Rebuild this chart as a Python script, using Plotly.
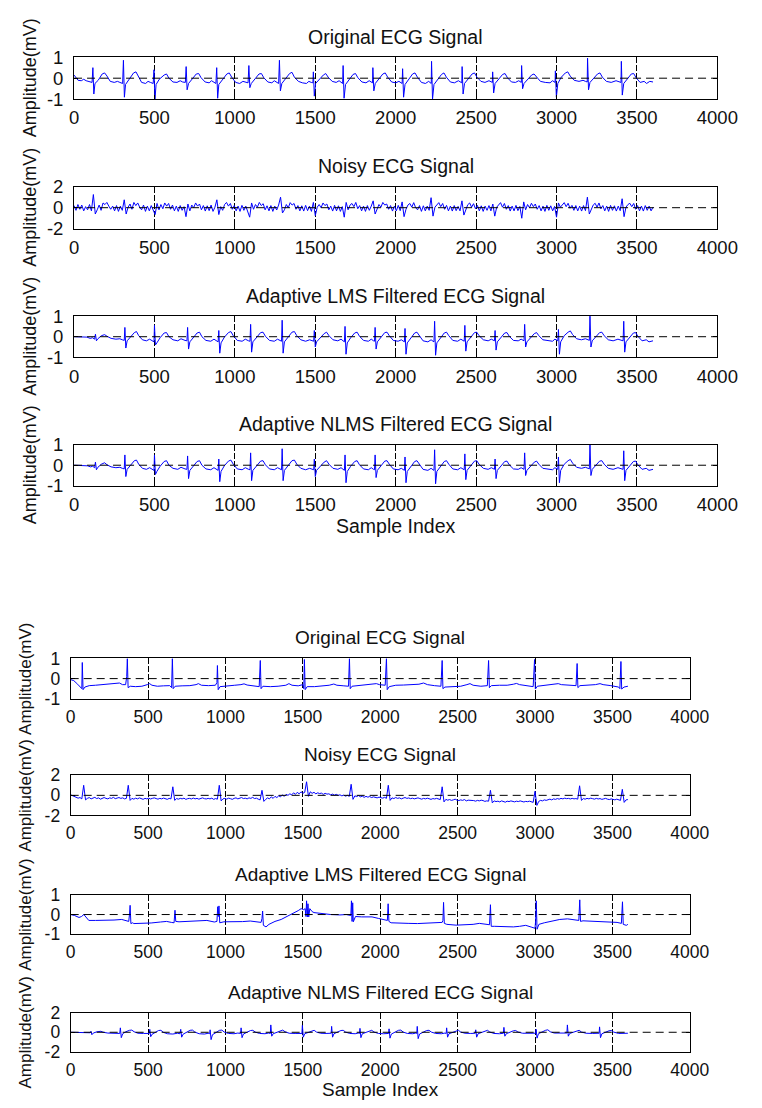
import plotly.graph_objects as go

FIG_W, FIG_H = 762, 1108
FONT = "Liberation Sans, Arial, Helvetica, sans-serif"

# ---------------------------------------------------------------- data
X_TICKS = [0, 500, 1000, 1500, 2000, 2500, 3000, 3500, 4000]
X_TICK_TEXT = [str(v) for v in X_TICKS]
X_LIMITS = [0, 4000]

TITLES = ["Original ECG Signal", "Noisy ECG Signal",
          "Adaptive LMS Filtered ECG Signal", "Adaptive NLMS Filtered ECG Signal"]
Y_LABEL = "Amplitude(mV)"
X_LABEL = "Sample Index"

# symmetric amplitude limit of each panel (mV)
Y_LIMITS = [1, 2, 1, 1, 1, 2, 1, 2]

# sample spacing of the stored noisy recordings
NOISY_STEP = 12

# record A : (sample index, amplitude) vertices
ORIG_A = [
    (0, 0.15), (12, 0.05), (25, -0.1), (45, -0.12), (60, -0.05), (75, -0.12), (95, -0.15), (112, -0.2),
    (117, 0.5), (123, -0.75), (130, -0.25), (150, -0.1), (175, 0.2), (190, 0.25), (205, 0.1), (225, -0.15),
    (250, -0.2), (270, -0.15), (285, -0.2), (302, -0.25), (307, 0.85), (313, -0.9), (320, -0.3), (345, -0.05),
    (370, 0.25), (385, 0.3), (400, 0.05), (420, -0.2), (445, -0.25), (460, -0.15), (475, -0.2), (492, -0.25),
    (497, 0.4), (503, -1.0), (510, -0.3), (530, -0.05), (560, 0.15), (575, 0.2), (590, 0.0), (615, -0.18),
    (640, -0.2), (660, -0.12), (675, -0.18), (692, -0.2), (697, 0.55), (703, -0.55), (712, -0.25), (735, -0.05),
    (760, 0.2), (775, 0.22), (790, 0.02), (815, -0.18), (840, -0.22), (855, -0.12), (870, -0.2), (882, -0.25),
    (887, 0.5), (893, -0.95), (900, -0.3), (925, -0.05), (950, 0.2), (965, 0.25), (980, 0.05), (1005, -0.2),
    (1030, -0.25), (1050, -0.15), (1065, -0.2), (1082, -0.22), (1087, 0.6), (1093, -0.45), (1102, -0.25),
    (1125, -0.05), (1150, 0.2), (1165, 0.22), (1180, 0.02), (1205, -0.18), (1230, -0.22), (1245, -0.12),
    (1260, -0.2), (1272, -0.25), (1277, 0.85), (1283, -0.6), (1292, -0.25), (1315, 0.0), (1340, 0.22),
    (1355, 0.28), (1370, 0.05), (1395, -0.15), (1420, -0.22), (1445, -0.25), (1460, -0.15), (1475, -0.2),
    (1485, -0.22), (1488, 0.3), (1494, -0.85), (1502, -0.25), (1525, -0.05), (1550, 0.15), (1565, 0.22),
    (1580, 0.05), (1605, -0.15), (1630, -0.2), (1648, -0.12), (1660, -0.2), (1670, -0.25), (1673, 0.6),
    (1679, -0.95), (1688, -0.3), (1710, -0.05), (1735, 0.18), (1750, 0.22), (1765, 0.02), (1790, -0.18),
    (1815, -0.22), (1835, -0.12), (1848, -0.2), (1856, -0.22), (1858, 0.5), (1864, -0.6), (1873, -0.25),
    (1895, -0.05), (1920, 0.2), (1935, 0.25), (1950, 0.05), (1975, -0.18), (2000, -0.22), (2020, -0.15),
    (2033, -0.2), (2040, -0.25), (2043, 0.45), (2049, -0.9), (2058, -0.3), (2080, -0.05), (2105, 0.2),
    (2120, 0.25), (2135, 0.05), (2160, -0.2), (2185, -0.25), (2205, -0.15), (2215, -0.22), (2221, -0.25),
    (2223, 0.8), (2229, -1.0), (2238, -0.3), (2260, -0.05), (2285, 0.18), (2300, 0.25), (2315, 0.05),
    (2340, -0.18), (2365, -0.22), (2390, -0.12), (2403, -0.2), (2411, -0.22), (2413, 0.55), (2419, -0.75),
    (2428, -0.25), (2450, -0.05), (2475, 0.2), (2490, 0.25), (2505, 0.05), (2530, -0.15), (2555, -0.2),
    (2580, -0.12), (2593, -0.18), (2601, -0.2), (2603, 0.3), (2609, -0.7), (2618, -0.25), (2640, -0.05),
    (2665, 0.18), (2680, 0.22), (2695, 0.02), (2720, -0.18), (2745, -0.2), (2765, -0.12), (2777, -0.18),
    (2781, -0.2), (2783, 0.6), (2789, -0.5), (2798, -0.25), (2820, -0.05), (2845, 0.15), (2860, 0.2),
    (2875, 0.05), (2900, -0.15), (2930, -0.2), (2960, -0.22), (2975, -0.12), (2987, -0.18), (2991, -0.2),
    (2993, 0.35), (2999, -0.9), (3008, -0.25), (3030, 0.05), (3055, 0.25), (3070, 0.3), (3085, 0.1),
    (3110, -0.1), (3140, -0.15), (3165, -0.1), (3180, -0.15), (3191, -0.18), (3193, 0.95), (3199, -0.55),
    (3208, -0.2), (3230, 0.0), (3255, 0.2), (3270, 0.25), (3285, 0.05), (3310, -0.15), (3340, -0.2),
    (3370, -0.12), (3390, -0.18), (3401, -0.2), (3403, 0.8), (3409, -0.8), (3418, -0.25), (3440, -0.05),
    (3465, 0.2), (3480, 0.22), (3495, 0.02), (3520, -0.2), (3545, -0.15), (3560, -0.25), (3580, -0.15),
    (3600, -0.18),
]

# record A with added noise, one value every NOISY_STEP samples
NOISY_A = [
    0.2, -0.25, 0.3, -0.15, 0.25, -0.3, 0.1, -0.2, 0.3, -0.3,
    1.25, -0.6,
    -0.2, 0.25, -0.25, 0.45, 0.3, 0.5, 0.15, -0.15, 0.15, -0.3, 0.2, -0.35, 0.15, -0.25,
    0.75, -0.6,
    0.05, 0.35, -0.15, 0.5, 0.2, 0.45, 0.05, -0.2, 0.25, -0.35, 0.15, -0.3, 0.2, -0.28,
    -0.65, 0.4,
    -0.2, 0.3, -0.1, 0.45, 0.15, 0.4, -0.15, 0.25, -0.3, 0.15, -0.35, 0.2, -0.25, 0.1,
    -0.85, 0.35,
    -0.3, 0.25, 0.0, 0.45, 0.15, 0.35, -0.2, 0.2, -0.32, 0.18, -0.28, 0.25, -0.35, 0.05,
    0.75, -0.65,
    0.1, -0.25, 0.3, 0.5, 0.15, 0.4, -0.15, 0.2, -0.3, 0.15, -0.35, 0.22, -0.25, 0.15, -0.3,
    -0.9, 0.45,
    -0.15, 0.3, 0.05, 0.5, 0.2, 0.38, -0.2, 0.18, -0.3, 0.2, -0.35, 0.15, -0.22, 0.25,
    1.0, -0.5,
    -0.2, 0.3, 0.0, 0.48, 0.25, 0.4, -0.15, 0.2, -0.3, 0.18, -0.32, 0.22, -0.28, 0.15, -0.35,
    0.5, -0.75,
    0.05, 0.3, 0.0, 0.45, 0.2, 0.35, -0.2, 0.15, -0.32, 0.22, -0.3, 0.18, -0.35, 0.1,
    -0.9, 0.5,
    -0.2, 0.25, 0.4, 0.1, 0.5, -0.1, 0.2, -0.3, 0.15, -0.35, 0.2, -0.25, 0.15,
    0.65, -0.6,
    -0.05, 0.3, 0.05, 0.5, 0.25, 0.35, -0.15, 0.2, -0.32, 0.15, -0.3, 0.22, -0.28,
    0.55, -0.85,
    -0.15, 0.25, 0.4, 0.05, 0.48, 0.0, -0.2, 0.2, -0.35, 0.18, -0.3, 0.15, -0.25,
    0.95, -0.8,
    0.05, 0.3, 0.48, 0.1, 0.4, -0.15, 0.22, -0.3, 0.15, -0.32, 0.2, -0.28, 0.12, -0.3,
    0.65, -0.7,
    -0.15, 0.28, 0.45, 0.05, 0.38, -0.1, 0.22, -0.3, 0.18, -0.35, 0.15, -0.25, 0.2, -0.3,
    0.35, -0.8,
    0.05, 0.25, 0.48, 0.05, 0.4, -0.15, 0.2, -0.32, 0.15, -0.3, 0.22, -0.28, 0.12,
    -1.0, 0.55,
    -0.2, 0.3, 0.0, 0.42, 0.1, 0.35, -0.15, 0.2, -0.3, 0.15, -0.35, 0.22, -0.25, 0.18, -0.3, 0.12,
    -0.9, 0.45,
    0.05, 0.3, 0.48, 0.1, 0.42, -0.05, 0.22, -0.25, 0.2, -0.3, 0.15, -0.32, 0.2, -0.28,
    1.0, -0.6,
    -0.15, 0.25, 0.42, 0.05, 0.45, -0.1, 0.2, -0.3, 0.15, -0.35, 0.22, -0.25, 0.18, -0.32, 0.15, -0.28,
    0.85, -0.85,
    0.05, 0.3, 0.42, 0.1, 0.4, -0.15, 0.2, -0.3, 0.15, -0.32, 0.2, -0.25, 0.15, -0.3, 0.05,
]

LMS_A = [
    (0, 0.0), (60, 0.0), (80, -0.02), (100, -0.08), (115, -0.05), (128, -0.12), (133, 0.12), (139, -0.2),
    (148, -0.1), (170, 0.05), (190, 0.1), (205, 0.02), (230, -0.08), (260, -0.12), (285, -0.1), (300, -0.15),
    (312, -0.18), (316, 0.45), (322, -0.55), (330, -0.2), (350, 0.0), (375, 0.2), (388, 0.25), (402, 0.05),
    (425, -0.15), (450, -0.2), (470, -0.12), (488, -0.2), (497, -0.25), (500, 0.55), (506, -0.4), (515, -0.3),
    (535, -0.05), (560, 0.18), (575, 0.2), (590, 0.0), (615, -0.15), (645, -0.2), (665, -0.1), (690, -0.18),
    (702, -0.2), (706, 0.45), (712, -0.6), (720, -0.25), (742, -0.05), (765, 0.18), (780, 0.22), (795, 0.0),
    (820, -0.18), (850, -0.22), (870, -0.12), (888, -0.2), (896, -0.25), (900, 0.3), (906, -0.8), (914, -0.3),
    (935, -0.02), (960, 0.2), (975, 0.25), (990, 0.05), (1015, -0.18), (1045, -0.22), (1065, -0.12),
    (1085, -0.2), (1094, -0.22), (1098, 0.6), (1104, -0.75), (1112, -0.25), (1135, -0.05), (1160, 0.2),
    (1175, 0.22), (1190, 0.02), (1215, -0.18), (1245, -0.22), (1265, -0.12), (1282, -0.2), (1290, -0.22),
    (1294, 0.8), (1300, -0.8), (1308, -0.25), (1330, 0.0), (1355, 0.22), (1370, 0.25), (1385, 0.05),
    (1410, -0.15), (1440, -0.22), (1465, -0.15), (1482, -0.2), (1490, -0.22), (1494, 0.3), (1500, -0.5),
    (1508, -0.25), (1530, -0.05), (1555, 0.15), (1570, 0.22), (1585, 0.05), (1610, -0.15), (1640, -0.2),
    (1660, -0.12), (1674, -0.2), (1681, -0.25), (1685, 0.5), (1691, -0.85), (1699, -0.3), (1720, -0.05),
    (1745, 0.18), (1760, 0.22), (1775, 0.02), (1800, -0.18), (1830, -0.22), (1848, -0.12), (1862, -0.2),
    (1868, -0.22), (1872, 0.45), (1878, -0.6), (1886, -0.25), (1908, -0.05), (1932, 0.2), (1946, 0.22),
    (1960, 0.05), (1985, -0.18), (2015, -0.22), (2035, -0.15), (2048, -0.2), (2054, -0.25), (2058, 0.4),
    (2064, -0.85), (2072, -0.3), (2094, -0.05), (2118, 0.18), (2132, 0.22), (2146, 0.05), (2170, -0.2),
    (2200, -0.25), (2220, -0.15), (2232, -0.22), (2238, -0.25), (2242, 0.75), (2248, -0.9), (2256, -0.3),
    (2278, -0.05), (2302, 0.18), (2316, 0.22), (2330, 0.05), (2355, -0.18), (2385, -0.22), (2405, -0.12),
    (2420, -0.2), (2426, -0.22), (2430, 0.55), (2436, -0.7), (2444, -0.25), (2466, -0.05), (2490, 0.2),
    (2504, 0.22), (2518, 0.05), (2545, -0.15), (2575, -0.2), (2595, -0.12), (2608, -0.18), (2614, -0.2),
    (2618, 0.3), (2624, -0.65), (2632, -0.25), (2654, -0.05), (2678, 0.18), (2692, 0.2), (2706, 0.02),
    (2732, -0.18), (2762, -0.2), (2780, -0.12), (2792, -0.18), (2798, -0.2), (2802, 0.6), (2808, -0.5),
    (2816, -0.25), (2838, -0.05), (2862, 0.15), (2876, 0.2), (2890, 0.05), (2915, -0.15), (2945, -0.2),
    (2975, -0.22), (2990, -0.12), (3002, -0.18), (3008, -0.2), (3012, 0.35), (3018, -0.85), (3026, -0.25),
    (3048, 0.05), (3072, 0.22), (3086, 0.28), (3100, 0.1), (3125, -0.1), (3155, -0.15), (3180, -0.1),
    (3196, -0.15), (3204, -0.18), (3208, 1.0), (3214, -0.5), (3222, -0.2), (3244, 0.0), (3268, 0.2),
    (3282, 0.22), (3296, 0.05), (3322, -0.15), (3352, -0.2), (3382, -0.12), (3404, -0.18), (3414, -0.2),
    (3418, 0.75), (3424, -0.75), (3432, -0.25), (3454, -0.05), (3478, 0.18), (3492, 0.2), (3506, 0.02),
    (3532, -0.2), (3558, -0.15), (3575, -0.25), (3600, -0.2),
]

NLMS_A = [
    (0, 0.0), (65, 0.0), (85, -0.03), (102, -0.08), (116, -0.05), (128, -0.12), (133, 0.15), (139, -0.22),
    (148, -0.1), (170, 0.05), (190, 0.12), (205, 0.02), (230, -0.08), (260, -0.12), (285, -0.1), (300, -0.15),
    (312, -0.18), (316, 0.5), (322, -0.55), (330, -0.2), (350, 0.0), (375, 0.22), (388, 0.25), (402, 0.05),
    (425, -0.15), (450, -0.2), (470, -0.12), (488, -0.2), (497, -0.25), (500, 0.5), (506, -0.45), (515, -0.3),
    (535, -0.05), (560, 0.18), (575, 0.22), (590, 0.0), (615, -0.15), (645, -0.2), (665, -0.1), (690, -0.18),
    (702, -0.2), (706, 0.45), (712, -0.65), (720, -0.25), (742, -0.05), (765, 0.18), (780, 0.22), (795, 0.0),
    (820, -0.18), (850, -0.22), (870, -0.12), (888, -0.2), (896, -0.25), (900, 0.3), (906, -0.8), (914, -0.3),
    (935, -0.02), (960, 0.2), (975, 0.25), (990, 0.05), (1015, -0.18), (1045, -0.22), (1065, -0.12),
    (1085, -0.2), (1094, -0.22), (1098, 0.6), (1104, -0.75), (1112, -0.25), (1135, -0.05), (1160, 0.2),
    (1175, 0.22), (1190, 0.02), (1215, -0.18), (1245, -0.22), (1265, -0.12), (1282, -0.2), (1290, -0.22),
    (1294, 0.8), (1300, -0.75), (1308, -0.25), (1330, 0.0), (1355, 0.22), (1370, 0.25), (1385, 0.05),
    (1410, -0.15), (1440, -0.22), (1465, -0.15), (1482, -0.2), (1490, -0.22), (1494, 0.3), (1500, -0.55),
    (1508, -0.25), (1530, -0.05), (1555, 0.15), (1570, 0.22), (1585, 0.05), (1610, -0.15), (1640, -0.2),
    (1660, -0.12), (1674, -0.2), (1681, -0.25), (1685, 0.5), (1691, -0.85), (1699, -0.3), (1720, -0.05),
    (1745, 0.18), (1760, 0.22), (1775, 0.02), (1800, -0.18), (1830, -0.22), (1848, -0.12), (1862, -0.2),
    (1868, -0.22), (1872, 0.5), (1878, -0.6), (1886, -0.25), (1908, -0.05), (1932, 0.2), (1946, 0.22),
    (1960, 0.05), (1985, -0.18), (2015, -0.22), (2035, -0.15), (2048, -0.2), (2054, -0.25), (2058, 0.4),
    (2064, -0.85), (2072, -0.3), (2094, -0.05), (2118, 0.18), (2132, 0.22), (2146, 0.05), (2170, -0.2),
    (2200, -0.25), (2220, -0.15), (2232, -0.22), (2238, -0.25), (2242, 0.75), (2248, -0.9), (2256, -0.3),
    (2278, -0.05), (2302, 0.18), (2316, 0.22), (2330, 0.05), (2355, -0.18), (2385, -0.22), (2405, -0.12),
    (2420, -0.2), (2426, -0.22), (2430, 0.55), (2436, -0.7), (2444, -0.25), (2466, -0.05), (2490, 0.2),
    (2504, 0.22), (2518, 0.05), (2545, -0.15), (2575, -0.2), (2595, -0.12), (2608, -0.18), (2614, -0.2),
    (2618, 0.3), (2624, -0.65), (2632, -0.25), (2654, -0.05), (2678, 0.18), (2692, 0.2), (2706, 0.02),
    (2732, -0.18), (2762, -0.2), (2780, -0.12), (2792, -0.18), (2798, -0.2), (2802, 0.6), (2808, -0.5),
    (2816, -0.25), (2838, -0.05), (2862, 0.15), (2876, 0.2), (2890, 0.05), (2915, -0.15), (2945, -0.2),
    (2975, -0.22), (2990, -0.12), (3002, -0.18), (3008, -0.2), (3012, 0.4), (3018, -0.85), (3026, -0.25),
    (3048, 0.05), (3072, 0.22), (3086, 0.28), (3100, 0.1), (3125, -0.1), (3155, -0.15), (3180, -0.1),
    (3196, -0.15), (3204, -0.18), (3208, 1.0), (3214, -0.5), (3222, -0.2), (3244, 0.0), (3268, 0.2),
    (3282, 0.22), (3296, 0.05), (3322, -0.15), (3352, -0.2), (3382, -0.12), (3404, -0.18), (3414, -0.2),
    (3418, 0.7), (3424, -0.75), (3432, -0.25), (3454, -0.05), (3478, 0.18), (3492, 0.2), (3506, 0.02),
    (3532, -0.2), (3558, -0.15), (3575, -0.25), (3600, -0.2),
]

# record B
ORIG_B = [
    (0, -0.05), (20, -0.1), (45, -0.28), (65, -0.42), (72, -0.5), (75, 0.8), (80, -0.55), (92, -0.42),
    (120, -0.35), (160, -0.33), (200, -0.3), (240, -0.3), (280, -0.26), (315, -0.22), (335, -0.3),
    (355, -0.3), (362, 0.1), (366, 1.0), (371, -0.45), (385, -0.38), (420, -0.4), (460, -0.38), (495, -0.3),
    (510, -0.25), (525, -0.33), (560, -0.38), (600, -0.36), (640, -0.35), (652, -0.45), (657, 1.0),
    (662, -0.5), (675, -0.38), (720, -0.36), (770, -0.35), (810, -0.3), (825, -0.25), (845, -0.33),
    (890, -0.35), (935, -0.33), (945, -0.2), (948, 0.65), (953, -0.55), (965, -0.4), (1010, -0.35),
    (1060, -0.33), (1100, -0.3), (1120, -0.26), (1140, -0.32), (1190, -0.35), (1218, -0.4), (1225, 0.9),
    (1230, -0.5), (1242, -0.38), (1290, -0.4), (1340, -0.38), (1390, -0.33), (1410, -0.25), (1430, -0.33),
    (1470, -0.36), (1500, -0.3), (1506, -0.5), (1510, 0.95), (1515, -0.55), (1528, -0.4), (1575, -0.4),
    (1620, -0.38), (1670, -0.33), (1700, -0.27), (1720, -0.33), (1765, -0.36), (1795, -0.38), (1801, 1.0),
    (1806, -0.5), (1818, -0.38), (1860, -0.35), (1900, -0.33), (1950, -0.3), (1975, -0.25), (1995, -0.3),
    (2032, -0.33), (2040, 1.0), (2045, -0.55), (2058, -0.4), (2100, -0.33), (2150, -0.32), (2200, -0.3),
    (2250, -0.28), (2280, -0.22), (2305, -0.3), (2350, -0.35), (2392, -0.38), (2400, 0.9), (2405, -0.5),
    (2418, -0.42), (2470, -0.4), (2520, -0.38), (2560, -0.3), (2580, -0.25), (2600, -0.33), (2650, -0.38),
    (2692, -0.35), (2700, 0.9), (2705, -0.45), (2718, -0.35), (2770, -0.33), (2820, -0.33), (2860, -0.28),
    (2880, -0.24), (2900, -0.3), (2950, -0.35), (2988, -0.4), (2997, 0.95), (3002, -0.52), (3015, -0.38),
    (3060, -0.33), (3110, -0.3), (3150, -0.25), (3170, -0.3), (3220, -0.33), (3265, -0.35), (3272, 0.75),
    (3277, -0.45), (3290, -0.35), (3340, -0.33), (3390, -0.3), (3420, -0.25), (3440, -0.3), (3490, -0.35),
    (3540, -0.42), (3548, -0.5), (3555, 0.85), (3560, -0.52), (3575, -0.42), (3600, -0.38),
]

NOISY_B = [
    0.05, -0.05, -0.12, -0.2, -0.28, -0.22, -0.35,
    1.0, -0.45,
    -0.3, -0.22, -0.35, -0.28, -0.2, -0.32, -0.25, -0.38, -0.28, -0.22, -0.3, -0.35, -0.25, -0.3, -0.2,
    -0.33, -0.27, -0.22, -0.3, -0.25, -0.35, -0.3,
    1.0, -0.5,
    -0.3, -0.38, -0.28, -0.35, -0.25, -0.33, -0.4, -0.3, -0.35, -0.28, -0.36, -0.3, -0.25, -0.32, -0.38,
    -0.3, -0.35, -0.27, -0.33, -0.4, -0.3, -0.35,
    0.85, -0.5,
    -0.32, -0.38, -0.3, -0.35, -0.28, -0.4, -0.33, -0.3, -0.36, -0.27, -0.35, -0.3, -0.38, -0.3, -0.25,
    -0.33, -0.36, -0.3, -0.35, -0.28, -0.4, -0.32, -0.38,
    1.0, -0.55,
    -0.35, -0.3, -0.38, -0.28, -0.33, -0.4, -0.3, -0.25, -0.35, -0.3, -0.22, -0.32, -0.28, -0.35, -0.25,
    -0.3, -0.2, -0.32, -0.28, -0.38, -0.45,
    0.5, -0.6,
    -0.4, -0.25, -0.35, -0.15, -0.3, -0.1, -0.22, -0.05, -0.15, 0.05, -0.1, 0.1, 0.0, 0.15, 0.05, 0.25,
    0.1, 0.3, 0.15, 0.35, 0.2, 0.3,
    1.35, -0.1,
    0.35, 0.2, 0.3, 0.15, 0.25, 0.18, 0.22, 0.1, 0.2, 0.12, 0.15, 0.05, 0.12, 0.02, 0.1, 0.0, 0.05,
    -0.05, 0.02, -0.08, 0.0, -0.1,
    1.1, -0.4,
    -0.05, -0.12, -0.02, -0.15, -0.08, -0.2, -0.1, -0.18, -0.12, -0.22, -0.15, -0.2, -0.25, -0.18, -0.22,
    -0.28, -0.2, -0.3,
    1.0, -0.5,
    -0.25, -0.32, -0.22, -0.3, -0.25, -0.35, -0.28, -0.22, -0.3, -0.26, -0.33, -0.28, -0.35, -0.3, -0.25,
    -0.32, -0.38, -0.3, -0.35, -0.28, -0.33, -0.4, -0.32, -0.36, -0.3, -0.38, -0.42,
    0.85, -0.65,
    -0.4, -0.48, -0.42, -0.5, -0.45, -0.38, -0.48, -0.52, -0.45, -0.5, -0.42, -0.55, -0.48, -0.5, -0.45,
    -0.52, -0.58, -0.5, -0.55, -0.48, -0.52, -0.6, -0.55, -0.58,
    0.5, -0.75,
    -0.55, -0.62, -0.58, -0.65, -0.55, -0.6, -0.68, -0.58, -0.62, -0.55, -0.6, -0.65, -0.58, -0.62, -0.55,
    -0.6, -0.66, -0.6, -0.63, -0.58, -0.65, -0.7,
    0.4, -1.0,
    -0.6, -0.5, -0.55, -0.45, -0.5, -0.42, -0.38, -0.45, -0.35, -0.4, -0.32, -0.38, -0.3, -0.35, -0.28,
    -0.33, -0.3, -0.36, -0.3, -0.35, -0.32, -0.38,
    0.95, -0.5,
    -0.32, -0.38, -0.3, -0.35, -0.28, -0.33, -0.38, -0.3, -0.36, -0.32, -0.4, -0.35, -0.3, -0.38, -0.42,
    -0.35, -0.4, -0.45, -0.38, -0.42, -0.5,
    0.6, -0.7,
    -0.45, -0.42,
]

LMS_B = [
    (0, 0.0), (25, -0.05), (54, -0.15), (70, -0.1), (85, 0.0), (100, -0.15), (117, -0.3), (160, -0.3),
    (220, -0.3), (280, -0.28), (330, -0.25), (360, -0.3), (375, -0.35), (380, 0.0), (384, 0.47),
    (389, -0.46), (400, -0.42), (408, -0.46), (460, -0.45), (520, -0.43), (580, -0.38), (620, -0.35),
    (650, -0.4), (668, -0.42), (674, 0.22), (679, -0.35), (700, -0.37), (760, -0.35), (820, -0.33),
    (880, -0.3), (928, -0.38), (945, -0.35), (950, 0.4), (954, -0.1), (958, 0.44), (963, -0.42),
    (990, -0.37), (1050, -0.37), (1110, -0.36), (1160, -0.33), (1198, -0.37), (1230, -0.4), (1236, -0.2),
    (1240, 0.18), (1245, -0.55), (1262, -0.63), (1281, -0.5), (1320, -0.35), (1360, -0.25), (1400, -0.1),
    (1440, 0.05), (1470, 0.2), (1489, 0.3), (1505, 0.25), (1515, 0.3), (1520, -0.1), (1524, 0.7),
    (1529, -0.12), (1533, 0.55), (1538, -0.12), (1545, 0.3), (1560, 0.15), (1572, 0.1), (1620, 0.05),
    (1680, 0.0), (1740, -0.02), (1780, 0.0), (1810, -0.05), (1814, 0.7), (1818, -0.35), (1822, 0.6),
    (1826, -0.37), (1840, -0.1), (1880, -0.12), (1947, -0.12), (1990, -0.2), (2030, -0.28), (2046, -0.3),
    (2051, 0.55), (2056, -0.35), (2070, -0.42), (2120, -0.45), (2180, -0.45), (2240, -0.46), (2300, -0.45),
    (2360, -0.42), (2400, -0.4), (2405, -0.3), (2409, 0.62), (2414, -0.45), (2430, -0.5), (2490, -0.54),
    (2550, -0.52), (2600, -0.5), (2640, -0.45), (2680, -0.5), (2706, -0.52), (2712, 0.5), (2717, -0.6),
    (2740, -0.6), (2800, -0.62), (2860, -0.63), (2900, -0.6), (2940, -0.55), (2980, -0.65), (3000, -0.7),
    (3004, -0.3), (3008, 0.7), (3013, -0.75), (3025, -0.5), (3060, -0.42), (3110, -0.35), (3160, -0.25),
    (3210, -0.22), (3260, -0.28), (3283, -0.3), (3289, 0.75), (3294, -0.35), (3310, -0.32), (3370, -0.34),
    (3430, -0.33), (3480, -0.35), (3530, -0.4), (3558, -0.45), (3565, 0.65), (3570, -0.5), (3580, -0.52),
    (3590, -0.55), (3600, -0.5),
]

NLMS_B = [
    (0, 0.0), (70, 0.0), (100, -0.05), (125, -0.05), (131, 0.1), (137, -0.25), (146, -0.08), (170, 0.05),
    (195, 0.1), (210, 0.0), (240, -0.08), (280, -0.1), (305, -0.08), (317, -0.12), (321, 0.45), (327, -0.55),
    (336, -0.15), (356, 0.05), (380, 0.2), (395, 0.22), (410, 0.05), (435, -0.1), (470, -0.12), (495, -0.08),
    (508, -0.12), (511, 0.3), (517, -0.45), (526, -0.2), (546, 0.0), (568, 0.18), (583, 0.2), (598, 0.0),
    (625, -0.15), (660, -0.18), (690, -0.1), (706, -0.15), (711, 0.3), (717, -0.5), (726, -0.2), (748, -0.02),
    (772, 0.2), (787, 0.22), (802, 0.02), (830, -0.15), (865, -0.18), (888, -0.1), (898, -0.15), (901, 0.25),
    (907, -0.75), (916, -0.25), (938, 0.0), (962, 0.2), (977, 0.22), (992, 0.02), (1020, -0.12),
    (1055, -0.15), (1080, -0.08), (1098, -0.12), (1101, 0.45), (1107, -0.55), (1116, -0.18), (1138, 0.0),
    (1162, 0.18), (1177, 0.2), (1192, 0.02), (1220, -0.12), (1255, -0.15), (1278, -0.08), (1290, -0.12),
    (1293, 0.75), (1299, -0.4), (1308, -0.15), (1330, 0.0), (1355, 0.2), (1370, 0.22), (1385, 0.05),
    (1412, -0.1), (1450, -0.12), (1480, -0.08), (1494, -0.12), (1497, 0.7), (1503, -0.5), (1512, -0.15),
    (1534, 0.0), (1558, 0.15), (1573, 0.2), (1588, 0.02), (1615, -0.1), (1650, -0.12), (1672, -0.08),
    (1683, -0.1), (1686, 0.6), (1692, -0.5), (1701, -0.15), (1722, 0.0), (1746, 0.18), (1761, 0.2),
    (1776, 0.02), (1803, -0.12), (1838, -0.15), (1858, -0.08), (1866, -0.12), (1869, 0.4), (1875, -0.55),
    (1884, -0.15), (1906, 0.0), (1930, 0.18), (1945, 0.2), (1960, 0.02), (1988, -0.12), (2022, -0.15),
    (2044, -0.08), (2054, -0.12), (2057, 0.35), (2063, -0.6), (2072, -0.18), (2094, 0.0), (2118, 0.2),
    (2133, 0.22), (2148, 0.02), (2175, -0.12), (2210, -0.15), (2230, -0.08), (2236, -0.12), (2239, 0.6),
    (2245, -0.65), (2254, -0.18), (2276, 0.0), (2300, 0.18), (2315, 0.2), (2330, 0.02), (2358, -0.12),
    (2395, -0.15), (2418, -0.08), (2426, -0.12), (2429, 0.45), (2435, -0.5), (2444, -0.15), (2466, 0.0),
    (2490, 0.18), (2505, 0.2), (2520, 0.02), (2548, -0.1), (2585, -0.12), (2606, -0.08), (2614, -0.1),
    (2617, 0.25), (2623, -0.5), (2632, -0.15), (2654, 0.0), (2678, 0.18), (2693, 0.2), (2708, 0.02),
    (2735, -0.12), (2770, -0.15), (2790, -0.08), (2796, -0.1), (2799, 0.5), (2805, -0.4), (2814, -0.15),
    (2836, 0.0), (2860, 0.15), (2875, 0.18), (2890, 0.02), (2920, -0.1), (2960, -0.12), (2990, -0.08),
    (3004, -0.1), (3007, 0.3), (3013, -0.6), (3022, -0.15), (3044, 0.05), (3068, 0.2), (3083, 0.25),
    (3098, 0.05), (3125, -0.08), (3160, -0.1), (3190, -0.06), (3206, -0.08), (3209, 0.75), (3215, -0.4),
    (3224, -0.12), (3246, 0.0), (3270, 0.18), (3285, 0.2), (3300, 0.02), (3330, -0.1), (3370, -0.12),
    (3400, -0.08), (3414, -0.1), (3417, 0.55), (3423, -0.55), (3432, -0.15), (3454, 0.0), (3478, 0.15),
    (3493, 0.18), (3508, 0.02), (3540, -0.12), (3570, -0.08), (3600, -0.1),
]


def from_pairs(seq):
    return [p[0] for p in seq], [p[1] for p in seq]


def from_samples(values, step):
    return [i * step for i in range(len(values))], list(values)


SERIES = [
    from_pairs(ORIG_A), from_samples(NOISY_A, NOISY_STEP), from_pairs(LMS_A), from_pairs(NLMS_A),
    from_pairs(ORIG_B), from_samples(NOISY_B, NOISY_STEP), from_pairs(LMS_B), from_pairs(NLMS_B),
]

# ---------------------------------------------------------------- layout (pixels)
GROUP_X = [(71.5, 737.5), (68.0, 709.0)]
FRAMES = [(47, 90), (179, 222), (311, 353), (442, 484),
          (660, 701), (779, 820), (901, 941), (1021, 1061)]
TICK_SIZE = [18.5, 17.5]
TITLE_SIZE = [19.5, 19]
LABEL_SIZE = [18, 17]
YLABEL_X = [26, 21]
XLABEL_Y = [525, 1099]

fig = go.Figure()
annotations = []


def px_x(v):
    return v / FIG_W


def px_y(v):
    return 1 - v / FIG_H


for i, ((xs, ys), lim) in enumerate(zip(SERIES, Y_LIMITS)):
    n = i + 1
    grp = 0 if i < 4 else 1
    xa = "x" if n == 1 else f"x{n}"
    ya = "y" if n == 1 else f"y{n}"
    left, right = GROUP_X[grp]
    top, bot = FRAMES[i]

    fig.add_trace(go.Scatter(x=xs, y=ys, xaxis=xa, yaxis=ya, mode="lines",
                             line=dict(color="#0000ff", width=1),
                             hoverinfo="skip", showlegend=False))
    fig.add_trace(go.Scatter(x=X_LIMITS, y=[0, 0], xaxis=xa, yaxis=ya, mode="lines",
                             line=dict(color="black", width=1, dash="8px,5px"),
                             hoverinfo="skip", showlegend=False))

    tfont = dict(family=FONT, size=TICK_SIZE[grp], color="#111111")
    fig.layout[f"xaxis{n if n > 1 else ''}"] = dict(
        domain=[px_x(left), px_x(right)], range=X_LIMITS, anchor=ya,
        tickmode="array", tickvals=X_TICKS, ticktext=X_TICK_TEXT,
        ticks="inside", ticklen=4, tickcolor="black", tickwidth=1,
        showline=True, linecolor="black", linewidth=1, mirror="ticks",
        showgrid=True, gridcolor="black", gridwidth=1, griddash="6px,2px",
        zeroline=False, tickfont=tfont, ticklabelstandoff=2, fixedrange=True)
    fig.layout[f"yaxis{n if n > 1 else ''}"] = dict(
        domain=[px_y(bot), px_y(top)], range=[-lim, lim], anchor=xa,
        tickmode="array", tickvals=[-lim, 0, lim], ticktext=[f"-{lim}", "0", f"{lim}"],
        ticks="inside", ticklen=4, tickcolor="black", tickwidth=1,
        showline=True, linecolor="black", linewidth=1, mirror="ticks",
        showgrid=False, zeroline=False, tickfont=tfont, ticklabelstandoff=6, fixedrange=True)

    annotations.append(dict(text=TITLES[i % 4], xref="paper", yref="paper",
                            x=px_x((left + right) / 2), y=px_y(top - 21),
                            xanchor="center", yanchor="middle", showarrow=False,
                            font=dict(family=FONT, size=TITLE_SIZE[grp], color="#111111")))
    annotations.append(dict(text=Y_LABEL, xref="paper", yref="paper", textangle=-90,
                            x=px_x(YLABEL_X[grp]), y=px_y((top + bot) / 2),
                            xanchor="center", yanchor="middle", showarrow=False,
                            font=dict(family=FONT, size=LABEL_SIZE[grp], color="#111111")))

for grp in range(2):
    left, right = GROUP_X[grp]
    annotations.append(dict(text=X_LABEL, xref="paper", yref="paper",
                            x=px_x((left + right) / 2), y=px_y(XLABEL_Y[grp]),
                            xanchor="center", yanchor="middle", showarrow=False,
                            font=dict(family=FONT, size=TITLE_SIZE[grp], color="#111111")))

fig.update_layout(width=FIG_W, height=FIG_H, autosize=False,
                  margin=dict(l=0, r=0, t=0, b=0),
                  paper_bgcolor="white", plot_bgcolor="white",
                  annotations=annotations, showlegend=False)

fig.write_html("out.html", config={"displayModeBar": False})
